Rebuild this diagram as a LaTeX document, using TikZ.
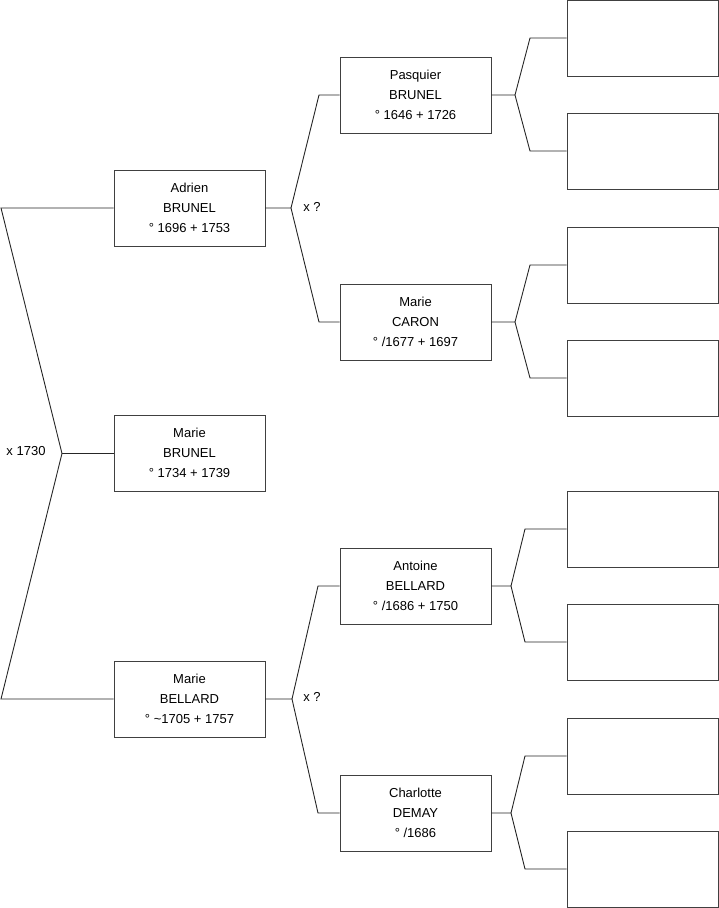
\documentclass[tikz,border=0pt]{standalone}
\usepackage{fontspec}
\setmainfont{Liberation Sans}
\newcommand\ptxt[3]{\raisebox{1.5pt}{\begin{tabular}{@{}c@{}}#1\\#2\\#3\end{tabular}}}
\begin{document}
\begin{tikzpicture}[x=1pt,y=-1pt,
  person/.style={draw=black!75,line width=0.9pt,minimum width=151pt,minimum height=76pt,
    align=center,font=\fontsize{13}{20}\selectfont,inner sep=0pt,fill=white},
  conn/.style={draw=black!85,line width=0.9pt},
  lbl/.style={font=\fontsize{13}{15}\selectfont,inner sep=0pt}]
\useasboundingbox (0,0) rectangle (719,908);
% generation 1
\node[person] (adrien) at (189.5,208) {\ptxt{Adrien}{BRUNEL}{° 1696 + 1753}};
\node[person] (mbrunel) at (189.5,453.5) {\ptxt{Marie}{BRUNEL}{° 1734 + 1739}};
\node[person] (mbellard) at (189.5,699) {\ptxt{Marie}{BELLARD}{° \textasciitilde1705 + 1757}};
% generation 2
\node[person] (pasquier) at (415.5,95) {\ptxt{Pasquier}{BRUNEL}{° 1646 + 1726}};
\node[person] (caron) at (415.5,322) {\ptxt{Marie}{CARON}{° /1677 + 1697}};
\node[person] (antoine) at (415.5,586) {\ptxt{Antoine}{BELLARD}{° /1686 + 1750}};
\node[person] (charlotte) at (415.5,813) {\ptxt{Charlotte}{DEMAY}{° /1686}};
% generation 3 (empty)
\node[person] (e1) at (642.5,38) {};
\node[person] (e2) at (642.5,151) {};
\node[person] (e3) at (642.5,265) {};
\node[person] (e4) at (642.5,378) {};
\node[person] (e5) at (642.5,529) {};
\node[person] (e6) at (642.5,642) {};
\node[person] (e7) at (642.5,756) {};
\node[person] (e8) at (642.5,869) {};
% left bracket
\coordinate (lt) at (1,208);
\coordinate (lv) at (62,453.5);
\coordinate (lb) at (1,699);
\draw[conn] (adrien.west) -- (lt) -- (lv) -- (lb) -- (mbellard.west);
\draw[conn] (lv) -- (mbrunel.west);
\node[lbl] (m0) at (26,451) {x 1730};
% Adrien bracket
\coordinate (av) at (291,208);
\coordinate (at1) at (319,95);
\coordinate (ab1) at (319,322);
\draw[conn] (adrien.east) -- (av) -- (at1) -- (pasquier.west);
\draw[conn] (av) -- (ab1) -- (caron.west);
\node[lbl] (m1) at (312,207) {x ?};
% Marie BELLARD bracket
\coordinate (bv) at (292,699);
\coordinate (bt1) at (318,586);
\coordinate (bb1) at (318,813);
\draw[conn] (mbellard.east) -- (bv) -- (bt1) -- (antoine.west);
\draw[conn] (bv) -- (bb1) -- (charlotte.west);
\node[lbl] (m2) at (312,697) {x ?};
% Pasquier bracket
\coordinate (pv) at (515,95);
\coordinate (pt) at (530,38);
\coordinate (pb) at (530,151);
\draw[conn] (pasquier.east) -- (pv) -- (pt) -- (e1.west);
\draw[conn] (pv) -- (pb) -- (e2.west);
% Caron bracket
\coordinate (cv) at (515,322);
\coordinate (ct) at (530,265);
\coordinate (cb) at (530,378);
\draw[conn] (caron.east) -- (cv) -- (ct) -- (e3.west);
\draw[conn] (cv) -- (cb) -- (e4.west);
% Antoine bracket
\coordinate (tv) at (511,586);
\coordinate (tt) at (525,529);
\coordinate (tb) at (525,642);
\draw[conn] (antoine.east) -- (tv) -- (tt) -- (e5.west);
\draw[conn] (tv) -- (tb) -- (e6.west);
% Charlotte bracket
\coordinate (hv) at (511,813);
\coordinate (ht) at (525,756);
\coordinate (hb) at (525,869);
\draw[conn] (charlotte.east) -- (hv) -- (ht) -- (e7.west);
\draw[conn] (hv) -- (hb) -- (e8.west);
\end{tikzpicture}
\end{document}
